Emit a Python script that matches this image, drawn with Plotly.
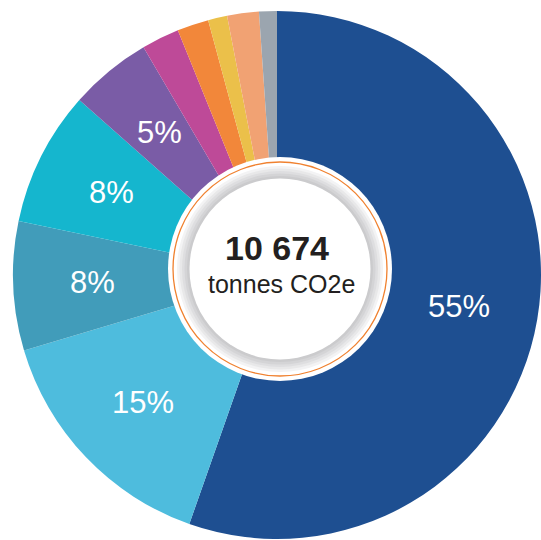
import math
import plotly.graph_objects as go

# Data (clockwise from 12 o'clock)
categories = ["A", "B", "C", "D", "E", "F", "G", "H", "I", "J"]
shares = [55.4, 15.0, 7.9, 8.25, 5.03, 2.31, 1.93, 1.17, 1.94, 1.09]
pct_labels = ["55%", "15%", "8%", "8%", "5%", "", "", "", "", ""]
colors = ["#1E4F91", "#4EBCDD", "#419CBA", "#15B6CE", "#7A5CA6",
          "#BE4A98", "#F2873A", "#EBC04A", "#F1A273", "#9BA5AF"]
total_value = "10 674"
unit_label = "tonnes CO2e"

W, H = 541, 540
FONT = "Liberation Sans, Arial, Helvetica, sans-serif"

# pie geometry (px)
px0, px1 = 13, 541
py0, py1 = 11, 539
pcx, pcy = (px0 + px1) / 2, (py0 + py1) / 2
R = min(px1 - px0, py1 - py0) / 2

fig = go.Figure(go.Pie(
    labels=categories,
    values=shares,
    textinfo="none",
    marker=dict(colors=colors, line=dict(width=0)),
    sort=False,
    direction="clockwise",
    rotation=0,
    hole=0.39,
    domain=dict(x=[px0 / W, px1 / W], y=[1 - py1 / H, 1 - py0 / H]),
    showlegend=False,
    hoverinfo="skip",
))

# percentage labels placed at each slice's mid-angle
annotations = []
total = sum(shares)
cum = 0.0
for v, t in zip(shares, pct_labels):
    mid = (cum + v / 2) / total * 2 * math.pi
    cum += v
    if not t:
        continue
    rr = 0.70 * R
    lx = pcx + rr * math.sin(mid)
    ly = pcy - rr * math.cos(mid)
    annotations.append(dict(text=t, xref="paper", yref="paper",
                            x=lx / W, y=1 - ly / H, showarrow=False,
                            xanchor="center", yanchor="middle",
                            font=dict(family=FONT, size=31, color="white")))

# center decoration (px)
cx, cy = 280, 269


def circle(r, **kw):
    return dict(type="circle", xref="paper", yref="paper",
                x0=(cx - r) / W, x1=(cx + r) / W,
                y0=1 - (cy + r) / H, y1=1 - (cy - r) / H, **kw)


shapes = [
    circle(112, fillcolor="white", line=dict(width=0)),
    circle(107, fillcolor="rgba(0,0,0,0)", line=dict(color="#F0812F", width=1.3)),
    circle(103, fillcolor="#F3F3F4", line=dict(width=0)),
    circle(100.5, fillcolor="#E8E8E9", line=dict(width=0)),
    circle(98, fillcolor="#DEDEE0", line=dict(width=0)),
    circle(95.5, fillcolor="#D4D4D6", line=dict(width=0)),
    circle(93, fillcolor="#CBCBCD", line=dict(width=0)),
    circle(90.5, fillcolor="white", line=dict(width=0)),
]

annotations += [
    dict(text="<b>" + total_value + "</b>", xref="paper", yref="paper",
         x=277 / W, y=1 - 248 / H, showarrow=False,
         font=dict(family=FONT, size=34, color="#231F20")),
    dict(text=unit_label, xref="paper", yref="paper",
         x=281 / W, y=1 - 284 / H, showarrow=False,
         font=dict(family=FONT, size=25, color="#231F20")),
]

fig.update_layout(
    width=W, height=H,
    margin=dict(l=0, r=0, t=0, b=0),
    paper_bgcolor="white",
    plot_bgcolor="white",
    shapes=shapes,
    annotations=annotations,
)

fig.write_html("out.html", config={"displayModeBar": False},
               post_script="document.body.style.margin='0';")
